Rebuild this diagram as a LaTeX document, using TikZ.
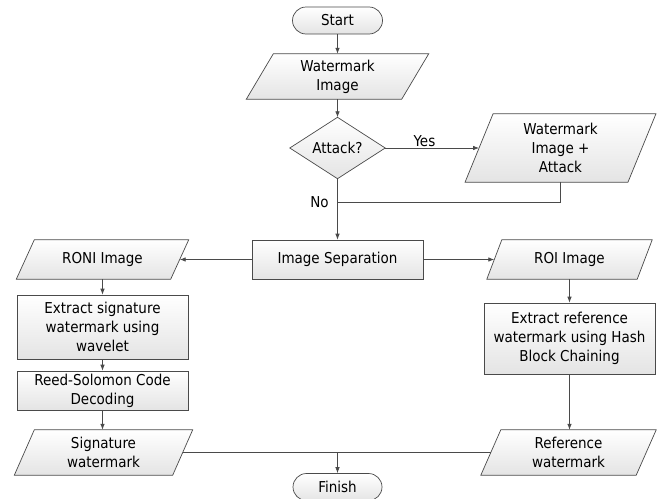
\documentclass[tikz,border=0pt]{standalone}
\usepackage{fontspec}
\setmainfont{DejaVu Sans Condensed}
\usetikzlibrary{arrows.meta,backgrounds}
\definecolor{linec}{HTML}{4A4A4A}
\definecolor{fillc}{HTML}{E4E4E4}
\begin{document}
\begin{tikzpicture}[x=1pt,y=-1pt,
  txt/.style={font=\fontsize{15}{19}\selectfont, align=center, inner sep=0pt, text=black},
  shp/.style={draw=linec, line width=0.7pt, top color=white, bottom color=fillc},
  rbox/.style={txt, shp, minimum width=#1},
  hid/.style={txt, minimum width=#1},
  term/.style={txt, shp, rounded corners=13.5pt, minimum width=#1, minimum height=27pt},
  ln/.style={draw=linec, line width=0.7pt},
  arr/.style={ln, -{Latex[length=6pt,width=4.5pt]}}
]
\useasboundingbox (0,0) rectangle (661,498);

% nodes
\node[term=90] (start) at (337.5,20.5) {Start};
\node[hid=155, minimum height=45pt] (wi) at (337.5,76.5) {Watermark\\Image};
\node[hid=95, minimum height=61pt] (att) at (337.5,148) {Attack?};
\node[hid=162.5, minimum height=68pt] (wia) at (560.5,148) {Watermark\\Image +\\Attack};
\node[rbox=171, minimum height=39pt] (is) at (337.5,259.5) {Image Separation};
\node[hid=154, minimum height=39pt] (roni) at (102.5,259.5) {RONI Image};
\node[hid=150, minimum height=39pt] (roi) at (569.5,259.5) {ROI Image};
\node[rbox=171, minimum height=64pt] (es) at (102.5,327) {Extract signature\\watermark using\\wavelet};
\node[rbox=171, minimum height=39pt] (rs) at (102.5,390.5) {Reed-Solomon Code\\Decoding};
\node[hid=158, minimum height=45pt] (sw) at (103.5,452.5) {Signature\\watermark};
\node[rbox=171, minimum height=71pt] (er) at (569.5,338.5) {Extract reference\\watermark using Hash\\Block Chaining};
\node[hid=155, minimum height=45pt] (rw) at (568.5,452.5) {Reference\\watermark};
\node[term=89] (fin) at (337.5,487) {Finish};

% shapes behind text
\begin{scope}[on background layer]
  \foreach \n/\s in {wi/13.5,wia/14,roni/9,roi/7.5,sw/10,rw/10}
    \draw[shp] ([xshift=\s pt]\n.north west) -- ([xshift=\s pt]\n.north east)
      -- ([xshift=-\s pt]\n.south east) -- ([xshift=-\s pt]\n.south west) -- cycle;
  \draw[shp] (att.north) -- (att.east) -- (att.south) -- (att.west) -- cycle;
\end{scope}

% connectors
\coordinate (j1) at (337.5,202);
\coordinate (j2) at (fin.north |- sw.east);
\draw[arr] (start) -- (wi);
\draw[arr] (wi) -- (att);
\draw[arr] (att.east) -- (wia.west);
\draw[arr] (att.south) -- (is.north);
\draw[ln] (wia.south) |- (j1);
\draw[arr] (is.west) -- (roni.east);
\draw[arr] (is.east) -- (roi.west);
\draw[arr] (roni.south) -- (roni.south |- es.north);
\draw[arr] (es.south) -- (rs.north);
\draw[arr] (rs.south) -- (rs.south |- sw.north);
\draw[arr] (roi.south) -- (er.north);
\draw[arr] (er.south) -- (er.south |- rw.north);
\draw[ln] (sw.east) -- (rw.west);
\draw[arr] (j2) -- (fin.north);

% labels
\node[txt, anchor=base] (yes) at (424.5,146) {Yes};
\node[txt, anchor=base] (no) at (319.5,207.5) {No};
\end{tikzpicture}
\end{document}
